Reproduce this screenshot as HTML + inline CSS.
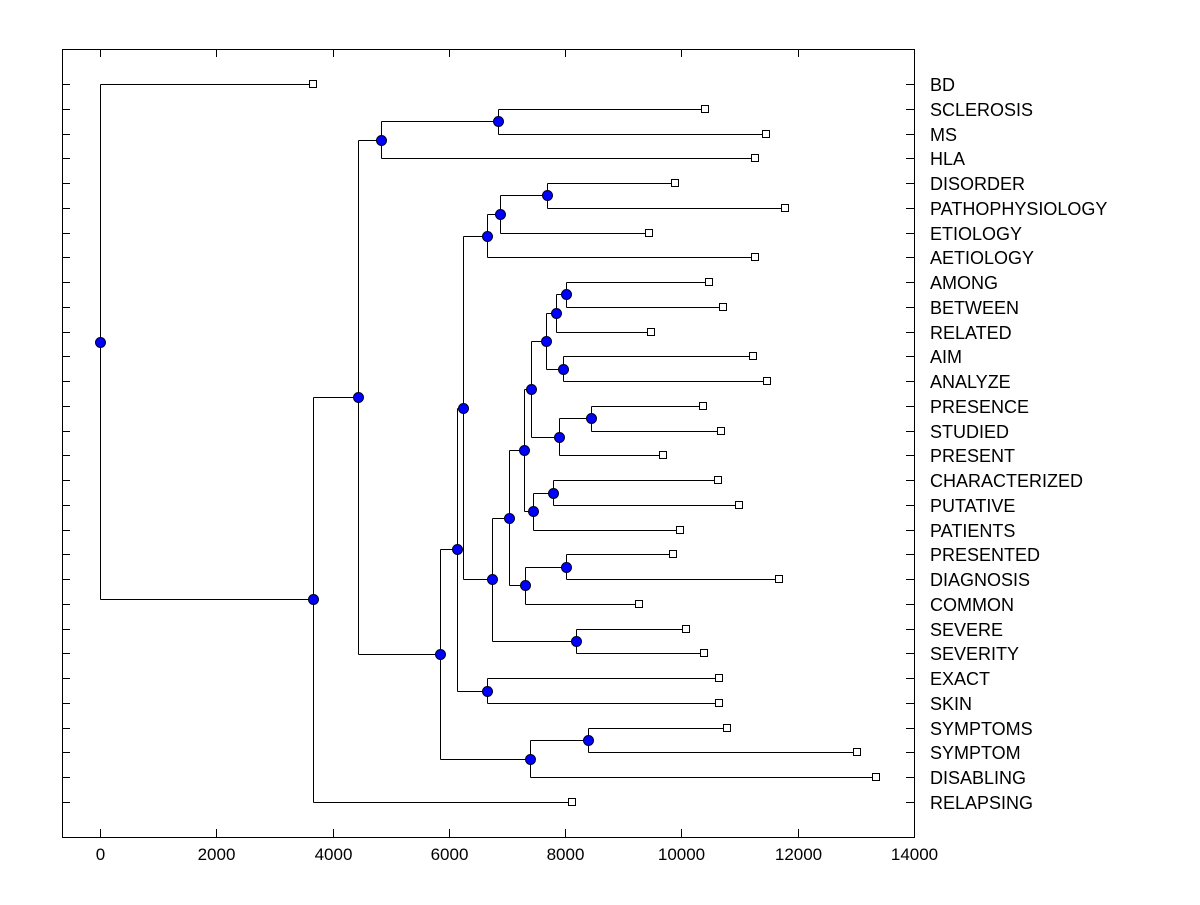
<!DOCTYPE html>
<html><head><meta charset="utf-8"><style>
body{margin:0;background:#fff}
svg text{font-family:"Liberation Sans",Arial,sans-serif;fill:#000}
</style></head><body>
<svg id="chart" width="1200" height="900" xmlns="http://www.w3.org/2000/svg"></svg>
<script>
const leafNames=["BD","SCLEROSIS","MS","HLA","DISORDER","PATHOPHYSIOLOGY","ETIOLOGY","AETIOLOGY","AMONG","BETWEEN","RELATED","AIM","ANALYZE","PRESENCE","STUDIED","PRESENT","CHARACTERIZED","PUTATIVE","PATIENTS","PRESENTED","DIAGNOSIS","COMMON","SEVERE","SEVERITY","EXACT","SKIN","SYMPTOMS","SYMPTOM","DISABLING","RELAPSING"];
const leafValues=[3664,10406,11455,11266,9890,11782,9443,11266,10475,10716,9477,11231,11472,10371,10681,9684,10630,10991,9976,9856,11679,9271,10079,10389,10647,10647,10784,13020,13347,8118];
// merge nodes: [id, height, childA, childB]
const nodeIds=["root","A","B","C","E","D","G","H","F","J","I","K","M","N","L","P","O","R","S","Q","U","V","T","X","Y","W","AA","Z","AB"];
const nodeHeights=[0,3664,4438,4833,6846,5848,7396,8393,6140,6656,6243,6656,6880,7688,6742,8187,7035,7310,8015,7293,7447,7791,7413,7895,8445,7671,7963,7843,8015];
const nodeChildren=[["BD","A"],["B","RELAPSING"],["C","D"],["E","HLA"],["SCLEROSIS","MS"],["F","G"],["H","DISABLING"],["SYMPTOMS","SYMPTOM"],["I","J"],["EXACT","SKIN"],["K","L"],["M","AETIOLOGY"],["N","ETIOLOGY"],["DISORDER","PATHOPHYSIOLOGY"],["O","P"],["SEVERE","SEVERITY"],["Q","R"],["S","COMMON"],["PRESENTED","DIAGNOSIS"],["T","U"],["V","PATIENTS"],["CHARACTERIZED","PUTATIVE"],["W","X"],["Y","PRESENT"],["PRESENCE","STUDIED"],["Z","AA"],["AIM","ANALYZE"],["AB","RELATED"],["AMONG","BETWEEN"]];
const xTicks=[0,2000,4000,6000,8000,10000,12000,14000];

const svg=document.getElementById('chart');
const NS="http://www.w3.org/2000/svg";
const L=62,R=914,T=49,B=837;
const xs=v=>100+v*(814/14000);
const ys=i=>84+i*(718/29);
function mk(tag,attrs,parent){const e=document.createElementNS(NS,tag);for(const k in attrs)e.setAttribute(k,attrs[k]);(parent||svg).appendChild(e);return e;}

const frame=mk('rect',{x:L+0.5,y:T+0.5,width:R-L,height:B-T,fill:'none',stroke:'#000','stroke-width':1});



const pos={};
leafNames.forEach((n,i)=>{pos[n]={x:xs(leafValues[i]),y:ys(i)};});
const nodeG=mk('g',{});


for(let k=nodeIds.length-1;k>=0;k--){
  const [a,b]=nodeChildren[k];
  pos[nodeIds[k]]={x:xs(nodeHeights[k]),y:(pos[a].y+pos[b].y)/2};
}
for(let k=0;k<nodeIds.length;k++){
  const p=pos[nodeIds[k]];const [a,b]=nodeChildren[k];
  const px=Math.round(p.x)+0.5;
  const l1=mk('line',{x1:px,y1:Math.round(pos[a].y)+0.5,x2:px,y2:Math.round(pos[b].y)+0.5,stroke:'#000'},nodeG);
  
  
  [a,b].forEach(c=>{
    const l=mk('line',{x1:px,y1:Math.round(pos[c].y)+0.5,x2:Math.round(pos[c].x)+0.5,y2:Math.round(pos[c].y)+0.5,stroke:'#000'},nodeG);
    
    
  });
}
leafNames.forEach((n,i)=>{
  const p=pos[n];const y=Math.round(p.y)+0.5;
  const s=mk('rect',{x:Math.round(p.x)-3.5,y:y-4,width:7,height:7,fill:'#fff',stroke:'#000'});
  
  
  const t=mk('text',{x:930,y:y+6.5,'font-size':18,textLength:0});
  t.removeAttribute('textLength');
  t.textContent=n;
  
  
  const tl=mk('line',{x1:L,y1:y,x2:L+8,y2:y,stroke:'#000'});
  
  
  const tr=mk('line',{x1:R-8,y1:y,x2:R,y2:y,stroke:'#000'});
  
  
});
nodeIds.forEach((id,k)=>{
  const p=pos[id];
  const c=mk('circle',{cx:Math.round(p.x)+0.5,cy:Math.round(p.y)+0.5,r:5,fill:'#0000ff',stroke:'#000020','stroke-width':1});
  
  
});
xTicks.forEach(v=>{
  const x=Math.round(xs(v))+0.5;
  const a=mk('line',{x1:x,y1:B,x2:x,y2:B-8,stroke:'#000'});
  
  
  const b=mk('line',{x1:x,y1:T,x2:x,y2:T+8,stroke:'#000'});
  
  
  const t=mk('text',{x:x,y:860,'font-size':17,'text-anchor':'middle'});
  t.textContent=v;
  
  
});
</script>
</body></html>
